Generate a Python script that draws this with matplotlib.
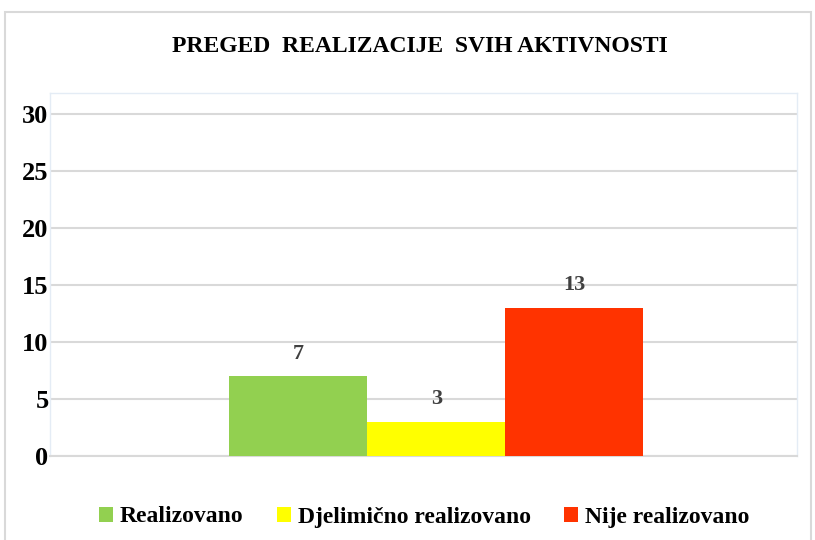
import numpy as np
from matplotlib import pyplot as plt
from matplotlib.patches import Rectangle

plt.rcParams["font.family"] = ["Liberation Serif", "DejaVu Serif"]
plt.rcParams["font.weight"] = "bold"

# data
series = ["Realizovano", "Djelimično realizovano", "Nije realizovano"]
values = [7, 3, 13]
colors = ["#92D050", "#FFFF00", "#FF3300"]
yticks = [0, 5, 10, 15, 20, 25, 30]

fig = plt.figure(figsize=(8.15, 5.4), dpi=100)
ax = fig.add_axes([50/815, 84/540, 747/815, 363/540])

# grouped bars around one category
center = 0.517
width = 0.185
for i, (name, v, c) in enumerate(zip(series, values, colors)):
    x = center + (i - 1) * width
    ax.bar(x, v, width=width, color=c, label=name, zorder=3)
    ax.text(x, v + 1.1, str(v), ha="center", va="bottom", fontsize=16,
            fontweight="bold", color="#404040")

ax.set_xlim(0, 1)
ax.set_ylim(0, 31.8)
ax.set_xticks([])
ax.set_yticks(yticks)
ax.set_yticklabels([str(t) for t in yticks], fontsize=19, fontweight="bold")
ax.tick_params(axis="y", length=0, pad=1)
ax.grid(axis="y", color="#D9D9D9", linewidth=1.5, zorder=0)
for s in ["top", "left", "right"]:
    ax.spines[s].set_color("#E4ECF5")
    ax.spines[s].set_linewidth(1)
ax.spines["bottom"].set_color("#D9D9D9")
ax.spines["bottom"].set_linewidth(1.5)

fig.text(420/815, 1 - 47/540, "PREGED  REALIZACIJE  SVIH AKTIVNOSTI",
         ha="center", va="center", fontsize=17, fontweight="bold")

fig.legend(loc="center", bbox_to_anchor=(424/815, 1 - 517/540), ncol=3,
           frameon=False, fontsize=17, handlelength=0.6, handleheight=0.6,
           handletextpad=0.3, columnspacing=1.4)

# outer chart border
fig.patches.append(Rectangle((5/815, -0.02), 806/815, 528/540 + 0.02,
                             transform=fig.transFigure, fill=False,
                             edgecolor="#D9D9D9", linewidth=1.5))

plt.savefig("out.png", dpi=100)
